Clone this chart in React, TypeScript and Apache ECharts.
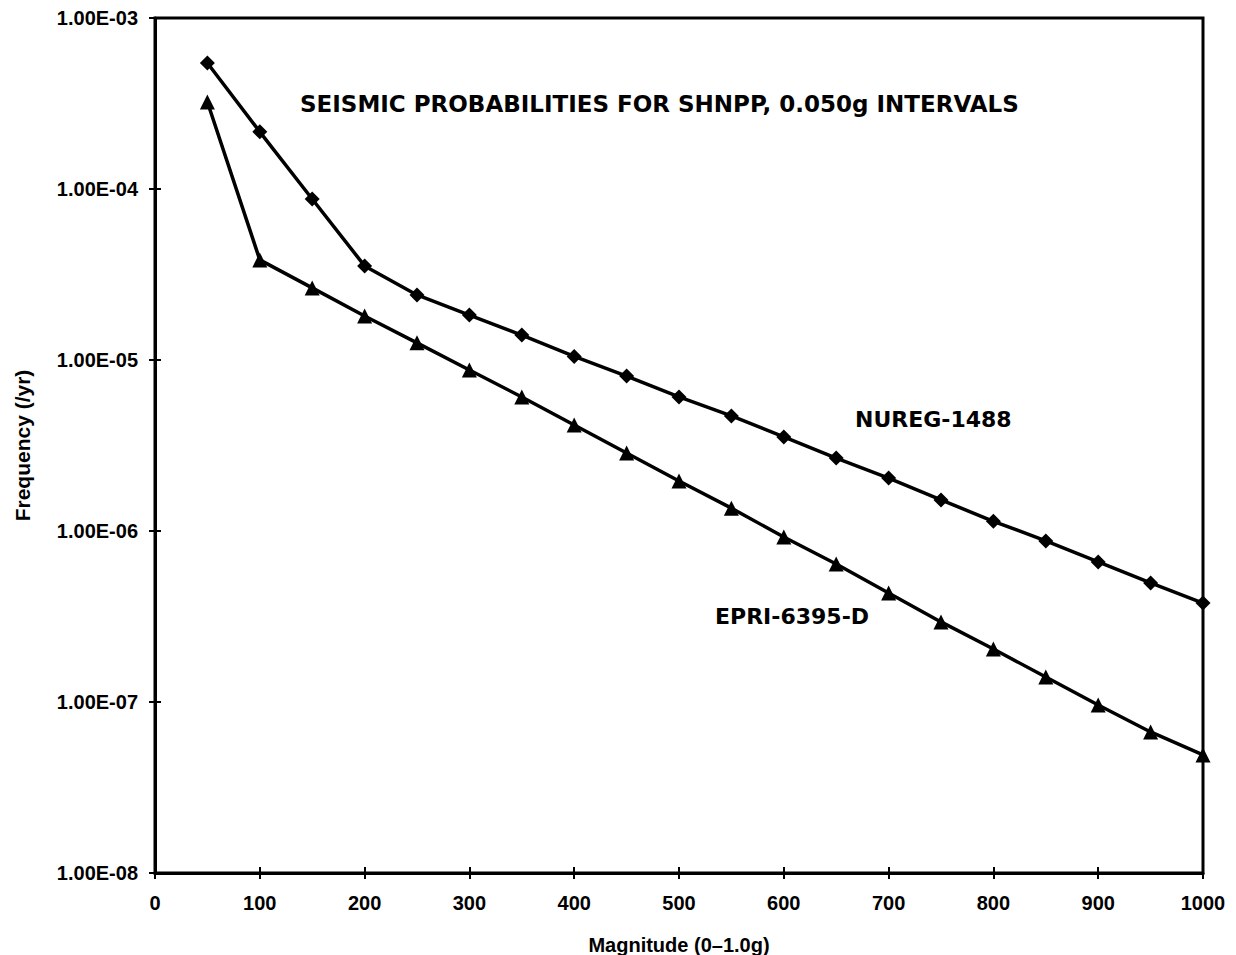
import React, { useEffect, useRef } from "react";
import * as echarts from "echarts";

const magnitudes = [50, 100, 150, 200, 250, 300, 350, 400, 450, 500, 550, 600, 650, 700, 750, 800, 850, 900, 950, 1000];
const nuregValues = [5.46e-4, 2.16e-4, 8.74e-5, 3.55e-5, 2.4e-5, 1.83e-5, 1.4e-5, 1.05e-5, 8.06e-6, 6.08e-6, 4.71e-6, 3.55e-6, 2.67e-6, 2.04e-6, 1.52e-6, 1.14e-6, 8.75e-7, 6.59e-7, 4.97e-7, 3.79e-7];
const epriValues = [3.23e-4, 3.85e-5, 2.64e-5, 1.81e-5, 1.26e-5, 8.74e-6, 6.08e-6, 4.17e-6, 2.86e-6, 1.96e-6, 1.36e-6, 9.22e-7, 6.41e-7, 4.34e-7, 2.94e-7, 2.04e-7, 1.4e-7, 9.6e-8, 6.68e-8, 4.9e-8];
const seriesNames = ["NUREG-1488", "EPRI-6395-D"];
const chartTitle = "SEISMIC PROBABILITIES FOR SHNPP, 0.050g INTERVALS";
const xAxisTitle = "Magnitude (0\u20131.0g)";
const yAxisTitle = "Frequency (/yr)";

const ARIAL = "'Liberation Sans', Arial, sans-serif";
const WIDE = "'DejaVu Sans', 'Liberation Sans', sans-serif";

function fmtSci(v: number): string {
  const e = Math.round(Math.log10(v));
  const m = v / Math.pow(10, e);
  const sign = e < 0 ? "-" : "+";
  const abs = Math.abs(e);
  return m.toFixed(2) + "E" + sign + (abs < 10 ? "0" + abs : String(abs));
}

export default function App() {
  const ref = useRef<HTMLDivElement>(null);
  useEffect(() => {
    if (!ref.current) return;
    const chart = echarts.init(ref.current, undefined, { renderer: "svg" });
    const toPairs = (vals: number[]) => magnitudes.map((m, i) => [m, vals[i]]);
    const xCommon = { type: "value", min: 0, max: 1000, interval: 100, position: "bottom", gridIndex: 0 };
    const yCommon = { type: "log", logBase: 10, min: 1e-8, max: 1e-3, position: "left", gridIndex: 0 };
    chart.setOption({
      animation: false,
      backgroundColor: "#ffffff",
      grid: {
        left: 155,
        top: 18,
        right: 33,
        bottom: 82,
        containLabel: false,
        outerBoundsMode: "none",
        show: true,
        borderColor: "#000",
        borderWidth: 3,
        backgroundColor: "transparent",
      },
      xAxis: [
        {
          ...xCommon,
          name: xAxisTitle,
          nameLocation: "middle",
          nameGap: 62,
          nameTextStyle: { fontFamily: ARIAL, fontWeight: "bold", fontSize: 20, color: "#000" },
          axisLine: { show: true, onZero: false, lineStyle: { color: "#000", width: 3 } },
          axisTick: { show: true, length: 6, lineStyle: { color: "#000", width: 2 } },
          axisLabel: {
            fontFamily: ARIAL,
            fontWeight: "bold",
            fontSize: 20,
            color: "#000",
            margin: 20,
            formatter: (v: number) => String(v),
          },
          splitLine: { show: false },
        },
        {
          ...xCommon,
          axisLine: { show: false, onZero: false },
          axisTick: { show: true, inside: true, length: 6, lineStyle: { color: "#000", width: 2 } },
          axisLabel: { show: false },
          splitLine: { show: false },
        },
      ],
      yAxis: [
        {
          ...yCommon,
          name: yAxisTitle,
          nameLocation: "middle",
          nameGap: 122,
          nameRotate: 90,
          nameTextStyle: { fontFamily: ARIAL, fontWeight: "bold", fontSize: 21, color: "#000" },
          axisLine: { show: true, onZero: false, lineStyle: { color: "#000", width: 3 } },
          axisTick: { show: true, length: 6, lineStyle: { color: "#000", width: 2 } },
          minorTick: { show: false },
          axisLabel: {
            fontFamily: ARIAL,
            fontWeight: "bold",
            fontSize: 20,
            color: "#000",
            margin: 17,
            formatter: (v: number) => fmtSci(v),
          },
          splitLine: { show: false },
        },
        {
          ...yCommon,
          axisLine: { show: false, onZero: false },
          axisTick: { show: true, inside: true, length: 6, lineStyle: { color: "#000", width: 2 } },
          axisLabel: { show: false },
          splitLine: { show: false },
        },
      ],
      series: [
        {
          name: seriesNames[0],
          type: "line",
          data: toPairs(nuregValues),
          symbol: "diamond",
          symbolSize: 15,
          itemStyle: { color: "#000" },
          lineStyle: { color: "#000", width: 3.5 },
          label: { show: false },
        },
        {
          name: seriesNames[1],
          type: "line",
          data: toPairs(epriValues),
          symbol: "triangle",
          symbolSize: 15,
          itemStyle: { color: "#000" },
          lineStyle: { color: "#000", width: 3.5 },
          label: { show: false },
        },
      ],
      graphic: [
        {
          type: "text",
          x: 300,
          y: 104,
          style: {
            text: chartTitle,
            font: `bold 23px ${WIDE}`,
            fill: "#000",
            textAlign: "left",
            textVerticalAlign: "middle",
          },
        },
        {
          type: "text",
          x: 855,
          y: 419,
          style: {
            text: seriesNames[0],
            font: `bold 22px ${WIDE}`,
            fill: "#000",
            textAlign: "left",
            textVerticalAlign: "middle",
          },
        },
        {
          type: "text",
          x: 715,
          y: 616,
          style: {
            text: seriesNames[1],
            font: `bold 22px ${WIDE}`,
            fill: "#000",
            textAlign: "left",
            textVerticalAlign: "middle",
          },
        },
      ],
    });
    return () => chart.dispose();
  }, []);
  return (
    <div
      ref={ref}
      style={{ position: "fixed", left: 0, top: 0, width: 1236, height: 955, background: "#fff" }}
    />
  );
}
